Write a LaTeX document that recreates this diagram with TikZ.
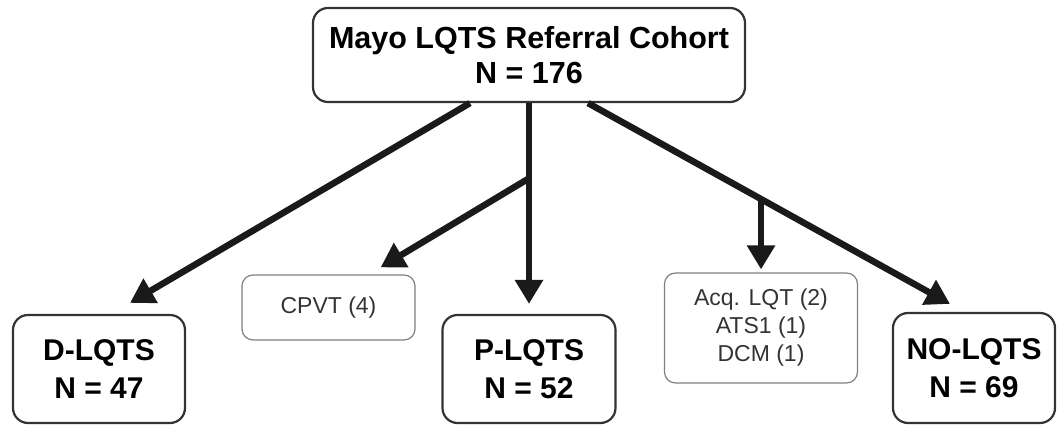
\documentclass[tikz,border=0pt]{standalone}
\usepackage{fontspec}
\setmainfont{Liberation Sans}
\usepackage{tikz}
\usetikzlibrary{arrows.meta}
\usetikzlibrary{calc}
\usetikzlibrary{positioning}

\definecolor{boxline}{HTML}{333333}
\definecolor{thinline}{HTML}{808080}
\definecolor{arrowfill}{HTML}{1A1A1A}

\begin{document}
\begin{tikzpicture}[
  x = 1pt, y = 1pt,
  bigbox/.style = {draw=boxline, line width=2.2pt, rounded corners=15pt,
                   inner sep=0pt, align=center, text=black,
                   font=\fontsize{30}{38}\selectfont\bfseries},
  smallbox/.style = {draw=thinline, line width=1.2pt, rounded corners=11pt,
                   inner sep=0pt, align=center, text=black!80,
                   font=\fontsize{23}{28}\selectfont},
  arr/.style = {draw=arrowfill, line width=6.5pt,
                -{Triangle[length=24pt,width=27pt]}}
                   ]
\useasboundingbox (0,0) rectangle (1058,425);
% boxes
\node[bigbox, minimum width=432pt, minimum height=94pt,
      font=\fontsize{30.5}{35}\selectfont\bfseries] (cohort) at (529,370)
      {Mayo LQTS Referral Cohort\\N = 176};
\node[bigbox, minimum width=172pt, minimum height=108pt] (dlqts) at (99,56)
      {D-LQTS\\N = 47};
\node[bigbox, minimum width=173pt, minimum height=108pt] (plqts) at (529,56)
      {P-LQTS\\N = 52};
\node[bigbox, minimum width=162pt, minimum height=110pt] (nolqts) at (974,57)
      {NO-LQTS\\N = 69};
\node[smallbox, minimum width=173pt, minimum height=65pt] (cpvt) at (328.5,117.5)
      {CPVT (4)};
\node[smallbox, minimum width=193pt, minimum height=110pt] (acq) at (761,97)
      {Acq. LQT (2)\\ATS1 (1)\\DCM (1)};
% arrows
\coordinate (lstart) at ($(cohort.south)+(-59,0)$);
\coordinate (rstart) at ($(cohort.south)+(59,0)$);
\coordinate (rend) at ($(nolqts.north)+(-24,8)$);
\coordinate (cpvtfork) at ($(cohort.south)!0.357!(plqts.north)$);
\coordinate (acqfork) at ($(rstart)!0.478!(rend)$);
\draw[arr] (lstart) -- ($(dlqts.north)+(31,11)$);
\draw[arr, shorten >=10pt] (cohort.south) -- (plqts.north);
\draw[arr] (rstart) -- (rend);
\draw[arr] (cpvtfork) -- ($(cpvt.north east)+(-35,7)$);
\draw[arr, shorten >=3pt] (acqfork) -- (acqfork |- acq.north);
\end{tikzpicture}
\end{document}
